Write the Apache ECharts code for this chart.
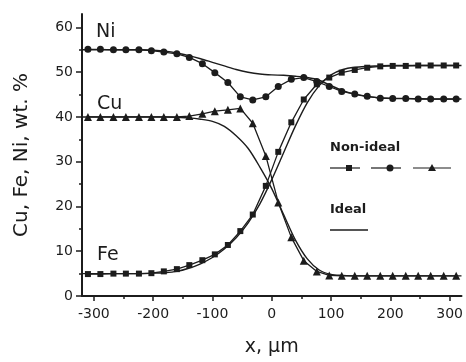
<!DOCTYPE html>
<html>
<head>
<meta charset="utf-8">
<script src="https://cdn.jsdelivr.net/npm/echarts@6/dist/echarts.min.js"></script>
<style>
  html, body { margin: 0; padding: 0; background: #fff; }
  #chart { width: 466px; height: 362px; }
</style>
</head>
<body>
<div id="chart"></div>
<script>
// measured points (non-ideal)
const xPts = [-310, -289, -267, -246, -224, -203, -182, -160, -139, -117, -96, -74, -53, -32, -10,
  11, 33, 54, 76, 97, 118, 140, 161, 183, 204, 226, 247, 268, 290, 311];
const niData = [55.1, 55.1, 55.0, 55.0, 55.0, 54.8, 54.5, 54.1, 53.3, 51.9, 49.9, 47.7, 44.5, 43.8, 44.5,
  46.8, 48.4, 48.8, 47.9, 46.8, 45.7, 45.1, 44.6, 44.2, 44.1, 44.1, 44.0, 44.0, 44.0, 44.0];
const cuData = [40.0, 40.0, 40.0, 40.0, 40.0, 40.0, 40.0, 40.0, 40.2, 40.7, 41.3, 41.6, 41.9, 38.6, 31.3,
  20.9, 13.1, 7.9, 5.5, 4.6, 4.5, 4.5, 4.5, 4.5, 4.5, 4.5, 4.5, 4.5, 4.5, 4.5];
const feData = [4.9, 4.9, 5.0, 5.0, 5.0, 5.1, 5.5, 6.0, 6.9, 8.0, 9.3, 11.4, 14.5, 18.2, 24.6,
  32.2, 38.8, 43.9, 47.3, 48.8, 49.9, 50.5, 51.0, 51.3, 51.4, 51.4, 51.5, 51.5, 51.5, 51.5];

// ideal curves
const idealX = [-320, -260, -220, -200, -180, -160, -140, -120, -100, -80, -60, -40, -20, 0,
  20, 40, 60, 80, 100, 120, 140, 160, 180, 200, 240, 280, 320];
const niIdeal = [55, 55, 55, 54.9, 54.7, 54.3, 53.7, 53.0, 52.2, 51.4, 50.6, 50.0, 49.6, 49.4,
  49.3, 49.1, 48.8, 48.2, 47.0, 45.9, 45.1, 44.6, 44.3, 44.2, 44.1, 44.0, 44.0];
const cuIdeal = [40, 40, 40, 40, 40, 39.9, 39.8, 39.5, 39.0, 37.9, 35.8, 33.0, 28.8, 24.0,
  18.2, 12.5, 8.3, 5.8, 4.8, 4.6, 4.5, 4.5, 4.5, 4.5, 4.5, 4.5, 4.5];
const feIdeal = [5, 5, 5, 5.1, 5.2, 5.5, 6.2, 7.2, 8.6, 10.5, 13.0, 16.3, 20.6, 26.0,
  32.0, 38.0, 43.2, 47.0, 49.4, 50.6, 51.1, 51.3, 51.4, 51.5, 51.5, 51.5, 51.5];

const xMajor = [-300, -200, -100, 0, 100, 200, 300];
const xMinor = [-250, -150, -50, 50, 150, 250];
const yMajor = [0, 10, 20, 30, 40, 50, 60];
const yMinor = [5, 15, 25, 35, 45, 55];

const ink = '#1c1c1c';
const font = '"DejaVu Sans", sans-serif';

const pairs = (xs, ys) => xs.map((x, i) => [x, ys[i]]);

const chart = echarts.init(document.getElementById('chart'));

const dataLine = (name, data, symbol, size) => ({
  name, type: 'line', data: pairs(xPts, data),
  symbol, symbolSize: size,
  lineStyle: { color: ink, width: 1.3 },
  itemStyle: { color: ink },
  animation: false, z: 3
});
const idealLine = (name, data) => ({
  name, type: 'line', data: pairs(idealX, data),
  showSymbol: false, smooth: 0.3,
  lineStyle: { color: ink, width: 1.4 },
  animation: false, z: 2
});

const xBase = { type: 'value', min: -320, max: 320 };
const yBase = { type: 'value', min: 0, max: 63 };
const tickFont = { fontFamily: font, fontSize: 14, color: ink };

chart.setOption({
  grid: { left: 82, right: 3, top: 14, bottom: 64 },
  xAxis: [
    Object.assign({}, xBase, {
      name: 'x, \u03bcm', nameLocation: 'middle', nameGap: 42,
      nameTextStyle: { fontFamily: font, fontSize: 19, color: ink },
      axisLine: { lineStyle: { color: ink, width: 2 } },
      axisTick: { customValues: xMajor, length: 5, lineStyle: { color: ink, width: 1.5 } },
      axisLabel: Object.assign({ customValues: xMajor, margin: 11 }, tickFont),
      splitLine: { show: false }
    }),
    Object.assign({}, xBase, {
      position: 'bottom',
      axisLine: { show: false },
      axisTick: { customValues: xMinor, length: 3, lineStyle: { color: ink, width: 1.5 } },
      axisLabel: { show: false },
      splitLine: { show: false }
    })
  ],
  yAxis: [
    Object.assign({}, yBase, {
      name: 'Cu, Fe, Ni, wt. %', nameLocation: 'middle', nameGap: 50,
      nameTextStyle: { fontFamily: font, fontSize: 20, color: ink },
      axisLine: { onZero: false, lineStyle: { color: ink, width: 2 } },
      axisTick: { customValues: yMajor, length: 6, lineStyle: { color: ink, width: 1.5 } },
      axisLabel: Object.assign({ customValues: yMajor, margin: 9 }, tickFont),
      splitLine: { show: false }
    }),
    Object.assign({}, yBase, {
      position: 'left',
      axisLine: { show: false, onZero: false },
      axisTick: { customValues: yMinor, length: 3, lineStyle: { color: ink, width: 1.5 } },
      axisLabel: { show: false },
      splitLine: { show: false }
    })
  ],
  series: [
    idealLine('Ni ideal', niIdeal),
    idealLine('Cu ideal', cuIdeal),
    idealLine('Fe ideal', feIdeal),
    dataLine('Fe', feData, 'rect', 6),
    dataLine('Ni', niData, 'circle', 7),
    dataLine('Cu', cuData, 'triangle', 8)
  ],
  graphic: [
    { type: 'text', left: 96, top: 23, style: { text: 'Ni', font: '19px ' + font, fill: ink } },
    { type: 'text', left: 97, top: 95, style: { text: 'Cu', font: '19px ' + font, fill: ink } },
    { type: 'text', left: 97, top: 246, style: { text: 'Fe', font: '19px ' + font, fill: ink } },
    { type: 'text', left: 330, top: 141, style: { text: 'Non-ideal', font: 'bold 13px ' + font, fill: ink } },
    { type: 'line', shape: { x1: 330, y1: 168, x2: 360, y2: 168 }, style: { stroke: ink, lineWidth: 1.2 } },
    { type: 'rect', shape: { x: 346, y: 165, width: 6, height: 6 }, style: { fill: ink } },
    { type: 'line', shape: { x1: 371, y1: 168, x2: 401, y2: 168 }, style: { stroke: ink, lineWidth: 1.2 } },
    { type: 'circle', shape: { cx: 390, cy: 168, r: 3.5 }, style: { fill: ink } },
    { type: 'line', shape: { x1: 413, y1: 168, x2: 451, y2: 168 }, style: { stroke: ink, lineWidth: 1.2 } },
    { type: 'polygon', shape: { points: [[432, 164], [436, 171], [428, 171]] }, style: { fill: ink } },
    { type: 'text', left: 330, top: 203, style: { text: 'Ideal', font: 'bold 13px ' + font, fill: ink } },
    { type: 'line', shape: { x1: 330, y1: 230, x2: 368, y2: 230 }, style: { stroke: ink, lineWidth: 1.4 } }
  ]
});
</script>
</body>
</html>
